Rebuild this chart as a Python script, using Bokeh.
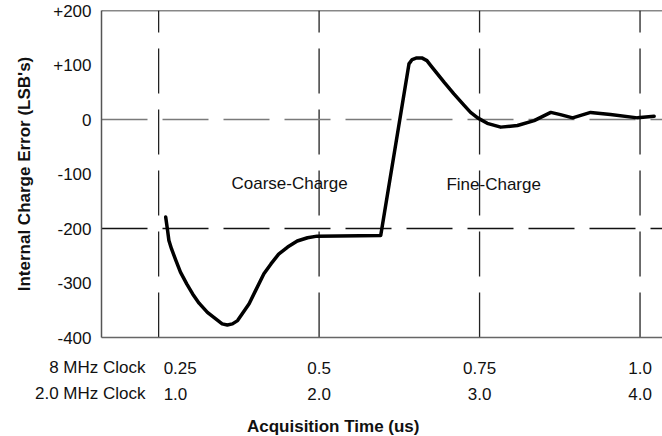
from bokeh.plotting import figure
from bokeh.layouts import column
from bokeh.models import ColumnDataSource, FixedTicker, Label, Span
from bokeh.core.properties import value
from bokeh.embed import file_html
from bokeh.resources import INLINE

# ---- data ----
time_8mhz = [0.261, 0.264, 0.266, 0.270, 0.277, 0.284, 0.294, 0.303, 0.313, 0.326,
             0.339, 0.349, 0.357, 0.365, 0.373, 0.380, 0.391, 0.401, 0.414, 0.425,
             0.437, 0.451, 0.466, 0.482, 0.497, 0.596, 0.640, 0.645, 0.652, 0.660,
             0.668, 0.674, 0.695, 0.710, 0.726, 0.736, 0.747, 0.762, 0.783, 0.809,
             0.835, 0.861, 0.876, 0.895, 0.923, 0.954, 0.996, 1.022]
error_lsb = [-179, -204, -222, -237, -259, -280, -302, -320, -337, -354,
             -366, -375, -377, -375, -369, -357, -338, -314, -283, -265,
             -247, -234, -223, -217, -214, -213, 102, 110, 113, 113,
             108, 99, 68, 47, 26, 13, 3, -7, -14, -11,
             -2, 13, 9, 3, 13, 9, 3, 6]

xticks = [0.25, 0.5, 0.75, 1.0]
clock8_labels = ["0.25", "0.5", "0.75", "1.0"]
clock2_labels = ["1.0", "2.0", "3.0", "4.0"]
row_names = ["8 MHz Clock", "2.0 MHz Clock"]
yticks = [-400, -300, -200, -100, 0, 100, 200]
ytick_labels = ["-400", "-300", "-200", "-100", "0", "+100", "+200"]
ref_levels = [0, -200]
ref_colors = ["#7a7a7a", "#111111"]
region_names = ["Coarse-Charge", "Fine-Charge"]
region_x = [0.454, 0.772]
region_y = [-118, -120]

W = 662
LEFT = 101
TOP_H = 346
BOT_H = 436 - TOP_H
X0, X1 = 0.161, 1.035
Y0, Y1 = -400, 200
FONT = "Liberation Sans"
FS = "17px"
INK = "#111111"

p = figure(width=W, height=TOP_H, x_range=(X0, X1), y_range=(Y0, Y1),
           output_backend="svg", toolbar_location=None,
           min_border_left=LEFT, min_border_right=0, min_border_top=10,
           min_border_bottom=9)
p.outline_line_color = None
p.xgrid.grid_line_color = None
p.ygrid.grid_line_color = None

# y axis
p.yaxis.ticker = FixedTicker(ticks=yticks)
p.yaxis.major_label_overrides = {t: l for t, l in zip(yticks, ytick_labels)}
p.yaxis.major_tick_line_color = None
p.yaxis.minor_tick_line_color = None
p.yaxis.major_tick_out = 0
p.yaxis.major_tick_in = 0
p.yaxis.major_label_standoff = 10
p.yaxis.major_label_text_font = FONT
p.yaxis.major_label_text_font_size = FS
p.yaxis.major_label_text_color = INK
p.yaxis.axis_line_color = "#555555"
p.yaxis.axis_line_width = 1.5
p.yaxis.axis_label = "Internal Charge Error (LSB's)"
p.yaxis.axis_label_text_font = FONT
p.yaxis.axis_label_text_font_style = "bold"
p.yaxis.axis_label_text_font_size = FS
p.yaxis.axis_label_text_color = INK
p.yaxis.axis_label_standoff = 16

# x axis: only the line; its labels are drawn in the strip below
p.xaxis.ticker = FixedTicker(ticks=[])
p.xaxis.major_tick_line_color = None
p.xaxis.minor_tick_line_color = None
p.xaxis.major_tick_out = 0
p.xaxis.major_tick_in = 0
p.xaxis.major_label_standoff = 0
p.xaxis.axis_line_color = "#666666"
p.xaxis.axis_line_width = 1.5

# top border
p.add_layout(Span(location=Y1, dimension="width", line_color=INK, line_width=1.5))

# vertical dashed reference lines at the clock ticks
vsrc = ColumnDataSource(dict(x=xticks, y0=[Y0] * len(xticks), y1=[Y1] * len(xticks)))
p.segment(x0="x", y0="y0", x1="x", y1="y1", source=vsrc,
          line_color="#222222", line_width=1.3, line_dash="45 16")

# horizontal dashed reference lines
hsrc = ColumnDataSource(dict(y=ref_levels, x0=[X0] * len(ref_levels),
                             x1=[X1] * len(ref_levels), c=ref_colors))
p.segment(x0="x0", y0="y", x1="x1", y1="y", source=hsrc,
          line_color="c", line_width=1.3, line_dash="46 15")

# the curve
p.line(time_8mhz, error_lsb, line_color="black", line_width=3.5,
       line_join="round", line_cap="round")

# region annotations
for name, rx, ry in zip(region_names, region_x, region_y):
    p.add_layout(Label(x=rx, y=ry, text=name, text_align="center",
                       text_baseline="middle", text_font=FONT,
                       text_font_size=FS, text_color=INK))

# ---- strip below: clock tick labels, sharing the x range (frames align) ----
row_y = [21, 47]
q = figure(width=W, height=BOT_H, x_range=p.x_range,
           y_range=(BOT_H, 0), output_backend="svg", toolbar_location=None,
           x_axis_location=None,
           min_border_left=LEFT, min_border_right=0, min_border_top=0,
           min_border_bottom=0)
q.outline_line_color = None
q.xgrid.grid_line_color = None
q.ygrid.grid_line_color = None

# row names as the strip's own y-axis labels
q.yaxis.ticker = FixedTicker(ticks=row_y)
q.yaxis.major_label_overrides = {t: n for t, n in zip(row_y, row_names)}
q.yaxis.axis_line_color = None
q.yaxis.major_tick_line_color = None
q.yaxis.minor_tick_line_color = None
q.yaxis.major_tick_out = 0
q.yaxis.major_tick_in = 0
q.yaxis.major_label_standoff = -44
q.yaxis.major_label_text_font = FONT
q.yaxis.major_label_text_font_size = FS
q.yaxis.major_label_text_color = INK

for ry, labels in zip(row_y, [clock8_labels, clock2_labels]):
    q.text(x=xticks[:1], y=[ry], text=labels[:1], x_offset=5,
           text_align="left", text_baseline="middle",
           text_font=value(FONT), text_font_size=FS, text_color=INK)
    q.text(x=xticks[1:], y=[ry] * (len(xticks) - 1), text=labels[1:],
           text_align="center", text_baseline="middle",
           text_font=value(FONT), text_font_size=FS, text_color=INK)

q.text(x=[0.522], y=[80], text=["Acquisition Time (us)"],
       text_align="center", text_baseline="middle",
       text_font=value(FONT), text_font_style="bold",
       text_font_size=FS, text_color=INK)

layout = column(p, q, spacing=0)
open("out.html", "w").write(file_html(layout, INLINE))
